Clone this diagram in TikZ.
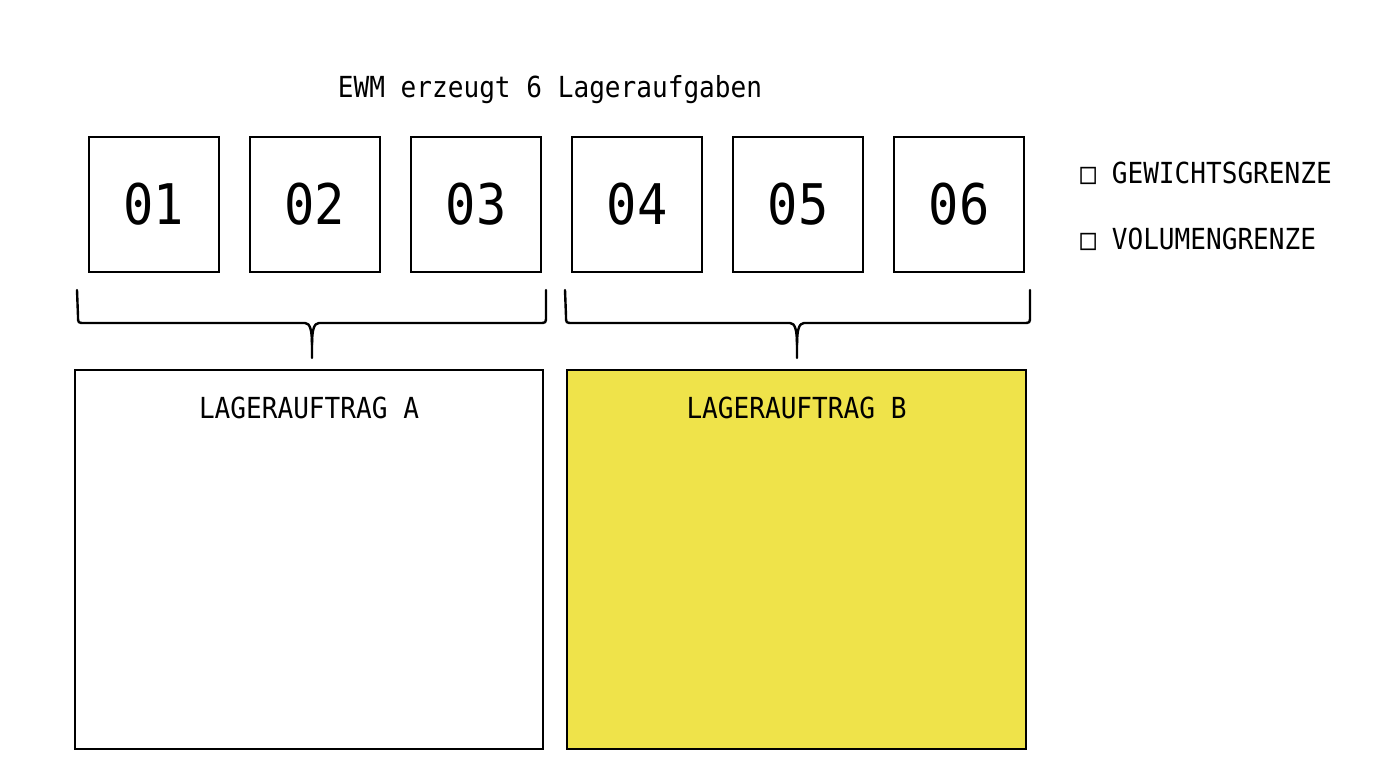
\documentclass[tikz,border=0pt]{standalone}
\usepackage{fontspec}
\setmonofont[FakeStretch=0.9]{DejaVu Sans Mono}
\usetikzlibrary{positioning}
\definecolor{orderyellow}{RGB}{239,227,74}

\begin{document}
\begin{tikzpicture}[x=0.5pt,y=-0.5pt,
taskbox/.style={draw,line width=1pt,minimum width=65pt,minimum height=67.5pt,inner sep=0pt,outer sep=0pt,font=\ttfamily\fontsize{28}{32}\selectfont},
orderbox/.style={draw,line width=1pt,minimum height=189.5pt,inner sep=0pt,outer sep=0pt},
lbl/.style={font=\ttfamily\fontsize{14.5}{17}\selectfont,inner sep=0pt},
brace/.style={line width=1.2pt,line join=round,line cap=round}]
\useasboundingbox (0,0) rectangle (1376,768);
\node (title) [lbl,anchor=base] at (550,97) {EWM erzeugt 6 Lageraufgaben};
% Lageraufgaben
\node (t01) [taskbox] at (154,204.5) {01};
\node (t02) [taskbox,right=15.5pt of t01] {02};
\node (t03) [taskbox,right=15.5pt of t02] {03};
\node (t04) [taskbox,right=15.5pt of t03] {04};
\node (t05) [taskbox,right=15.5pt of t04] {05};
\node (t06) [taskbox,right=15.5pt of t05] {06};
% Grenzen
\node (gew) [lbl,anchor=west] at (1080,173) {□ GEWICHTSGRENZE};
\node (vol) [lbl,anchor=west] at (1080,239) {□ VOLUMENGRENZE};
% Klammern
\draw [brace] (77,290) -- (78,316) .. controls (78,323) .. (85,323) -- (305,323)
    .. controls (310,323) and (312,330) .. (312,345) -- (312,358);
\draw [brace] (312,345) .. controls (312,330) and (314,323) .. (319,323) -- (539,323)
    .. controls (546,323) .. (546,316) -- (546,290);
\draw [brace] (565,290) -- (566,316) .. controls (566,323) .. (573,323) -- (790,323)
    .. controls (795,323) and (797,330) .. (797,345) -- (797,358);
\draw [brace] (797,345) .. controls (797,330) and (799,323) .. (804,323) -- (1023,323)
    .. controls (1030,323) .. (1030,316) -- (1030,290);
% Lagerauftraege
\node (ordera) [orderbox,minimum width=234pt] at (309,559.5) {};
\node (orderb) [orderbox,minimum width=229.5pt,fill=orderyellow] at (796.5,559.5) {};
\node (laba) [lbl] at (309,408) {LAGERAUFTRAG A};
\node (labb) [lbl] at (796.5,408) {LAGERAUFTRAG B};
\end{tikzpicture}
\end{document}
